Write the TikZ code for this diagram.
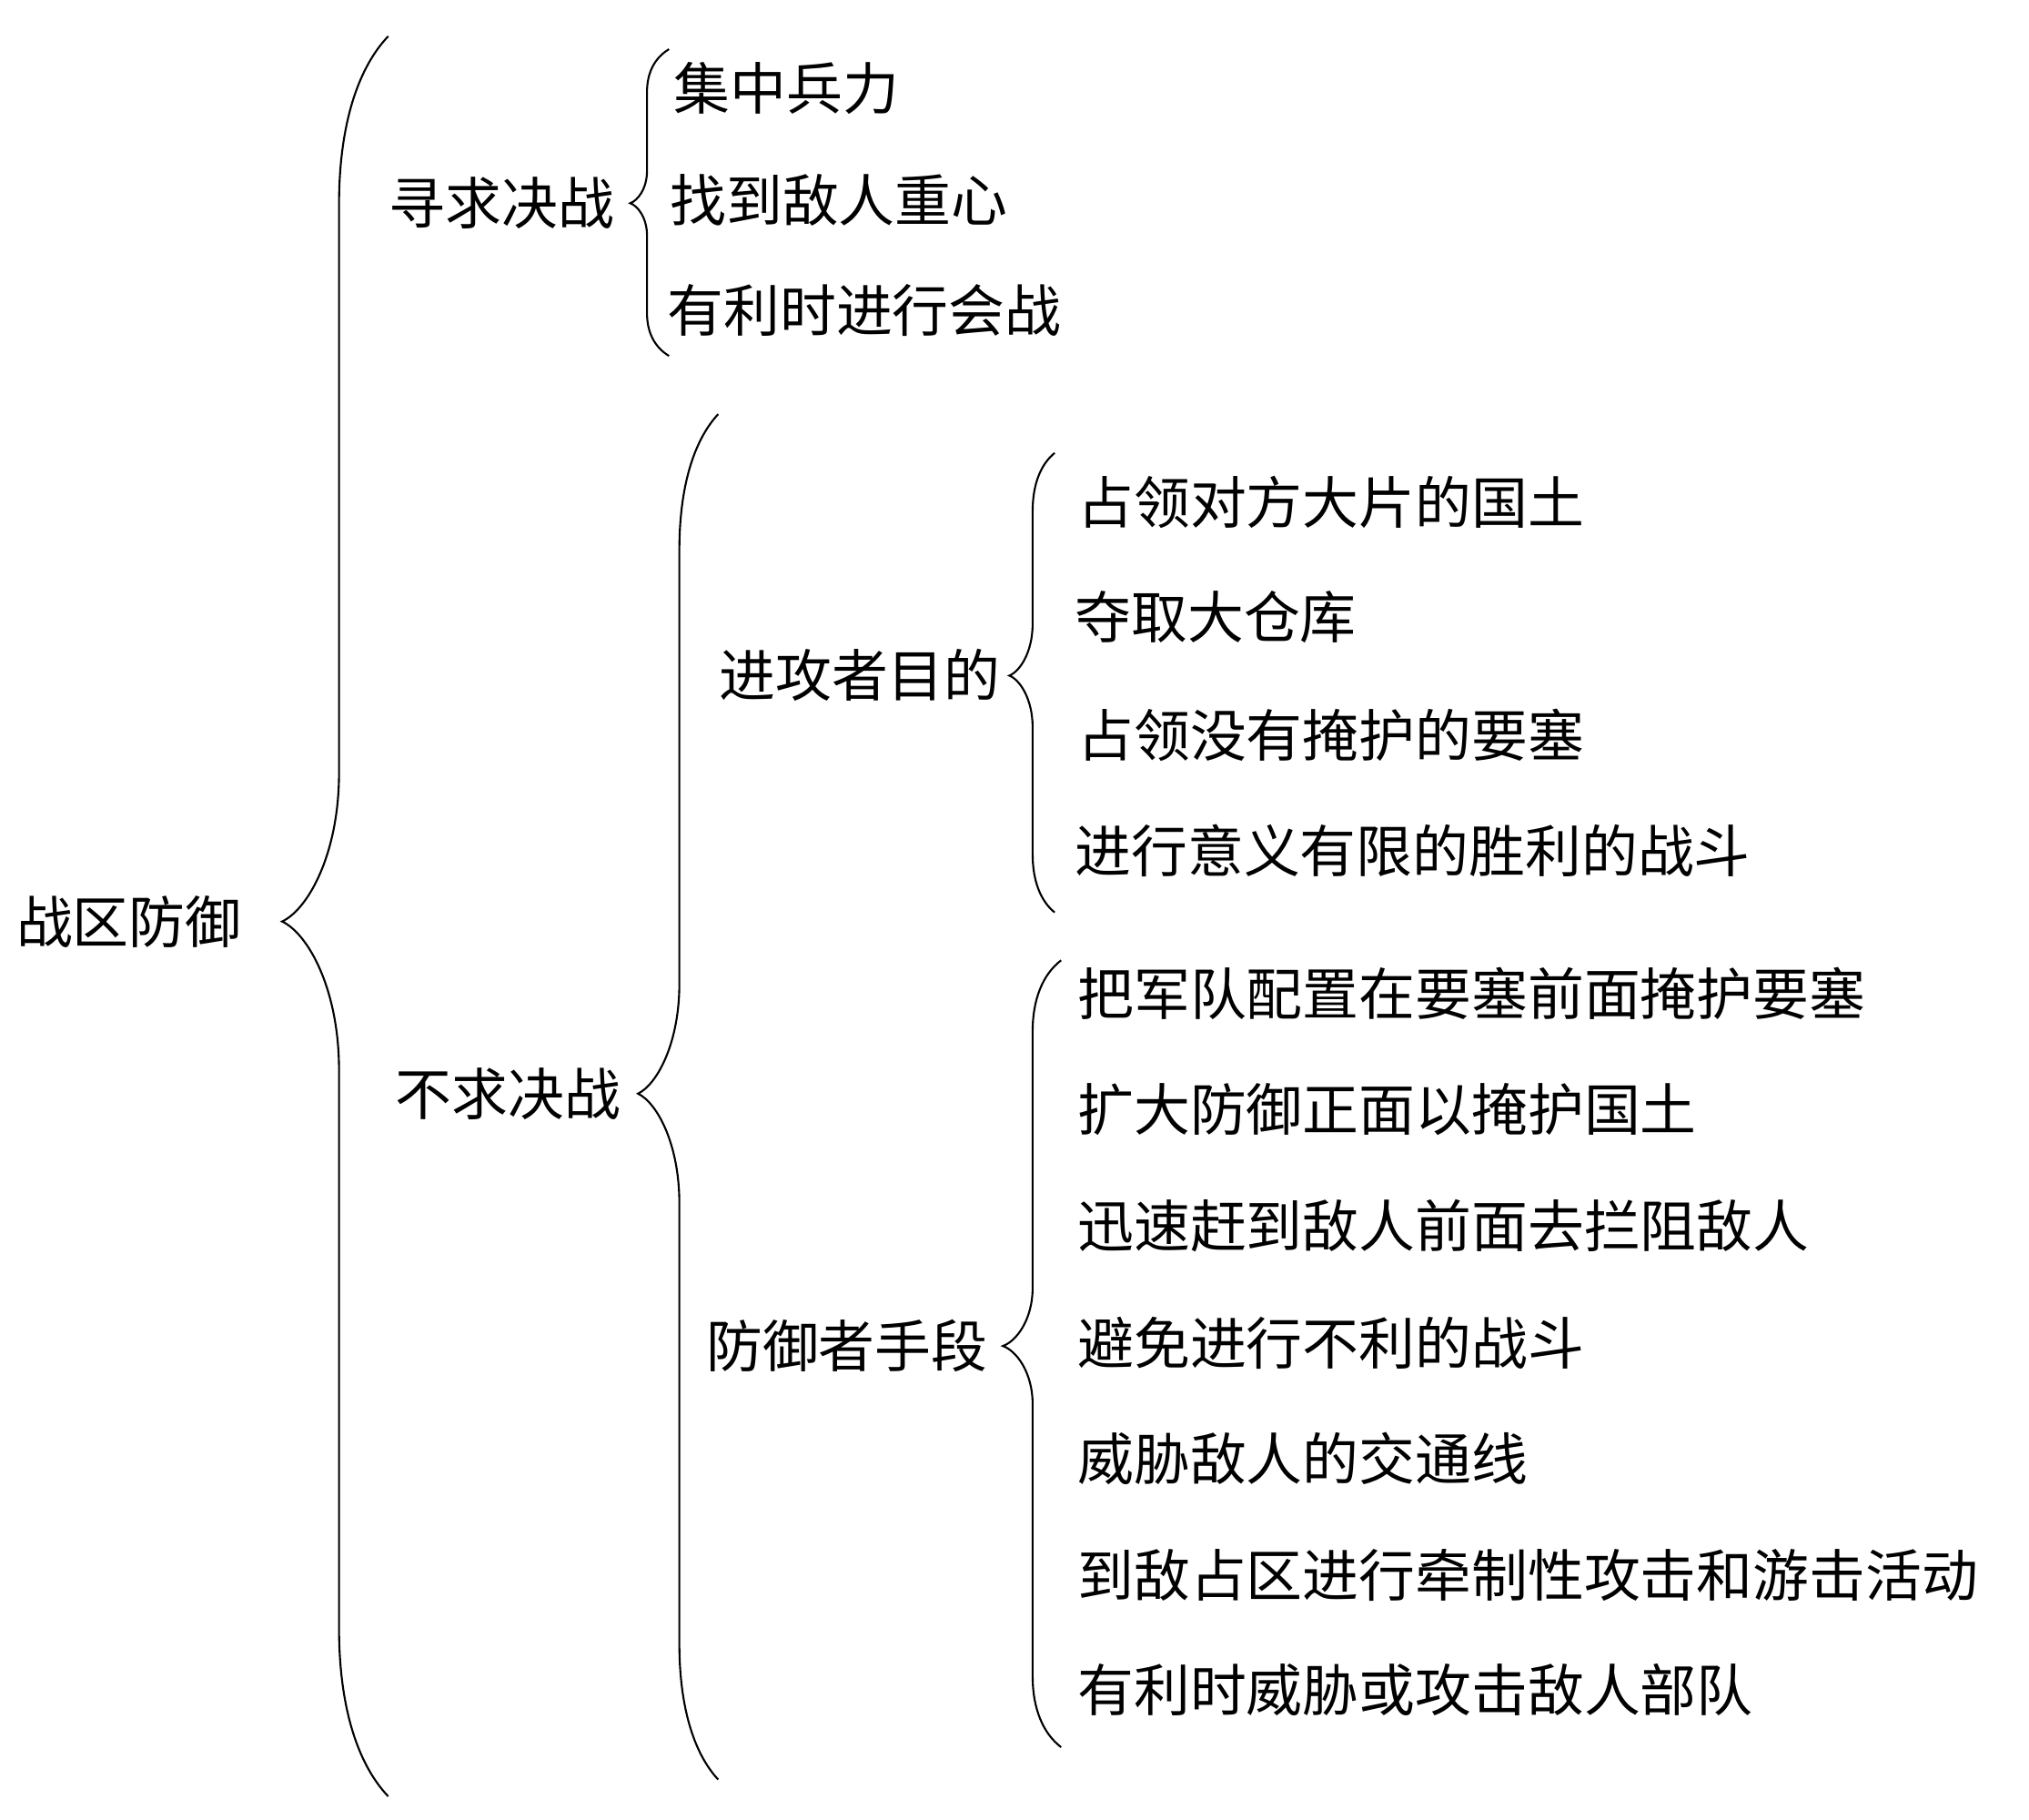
\documentclass[tikz,border=0pt]{standalone}
\usepackage{fontspec}
\newfontfamily\cjk{Noto Sans CJK SC}
\usetikzlibrary{positioning}
\tikzstyle{t} = [font=\cjk\fontsize{17.6}{20}\selectfont, inner sep=0pt, anchor=west]
% curly brace: end x, line x, tip x, top y, tip y, bottom y, end bend, tip bend
\newcommand{\curly}[8]{%
  \draw (#1,#4) .. controls ({#2+0.35*(#1-#2)},{#4+0.2*#7}) and (#2,{#4+0.55*#7}) .. (#2,{#4+#7})
    -- (#2,{#5-#8}) .. controls (#2,{#5-0.45*#8}) and ({#3+0.45*(#2-#3)},{#5-0.08*#8}) .. (#3,#5)
    .. controls ({#3+0.45*(#2-#3)},{#5+0.08*#8}) and (#2,{#5+0.45*#8}) .. (#2,{#5+#8})
    -- (#2,{#6-#7}) .. controls (#2,{#6-0.55*#7}) and ({#2+0.35*(#1-#2)},{#6-0.2*#7}) .. (#1,#6);}

\begin{document}
\begin{tikzpicture}[x=0.014222cm, y=-0.014222cm, line width=0.6pt]
    \useasboundingbox (0,0) rectangle (1568,1406);

    \node[t] (root) at (12,712) {战区防御};
    \node[t] (seek) at (300,157) {寻求决战};
    \node[t] (noseek) at (305,845) {不求决战};

    \node[t] (s1) at (520,68) {集中兵力};
    \node[t] (s2) at (517,155) {找到敌人重心};
    \node[t] (s3) at (515,240) {有利时进行会战};

    \node[t] (att) at (555,522) {进攻者目的};
    \node[t] (def) at (545,1040) {防御者手段};

    \node[t] (a1) at (832,388) {占领对方大片的国土};
    \node[t] (a2) at (830,477) {夺取大仓库};
    \node[t] (a3) at (832,568) {占领没有掩护的要塞};
    \node[t] (a4) at (830,657) {进行意义有限的胜利的战斗};

    \node[t] (d1) at (832,768) {把军队配置在要塞前面掩护要塞};
    \node[t] (d2) at (832,857) {扩大防御正面以掩护国土};
    \node[t] (d3) at (832,947) {迅速赶到敌人前面去拦阻敌人};
    \node[t] (d4) at (832,1038) {避免进行不利的战斗};
    \node[t] (d5) at (832,1127) {威胁敌人的交通线};
    \node[t] (d6) at (832,1217) {到敌占区进行牵制性攻击和游击活动};
    \node[t] (d7) at (832,1306) {有利时威胁或攻击敌人部队};

    % braces
    \curly{300}{262}{218}{28}{712}{1388}{130}{115}
    \curly{517}{500}{487}{38}{157}{275}{33}{25}
    \curly{555}{525}{493}{320}{845}{1375}{105}{85}
    \curly{815}{798}{780}{350}{522}{705}{45}{40}
    \curly{820}{798}{775}{742}{1040}{1350}{55}{45}

\end{tikzpicture}
\end{document}
